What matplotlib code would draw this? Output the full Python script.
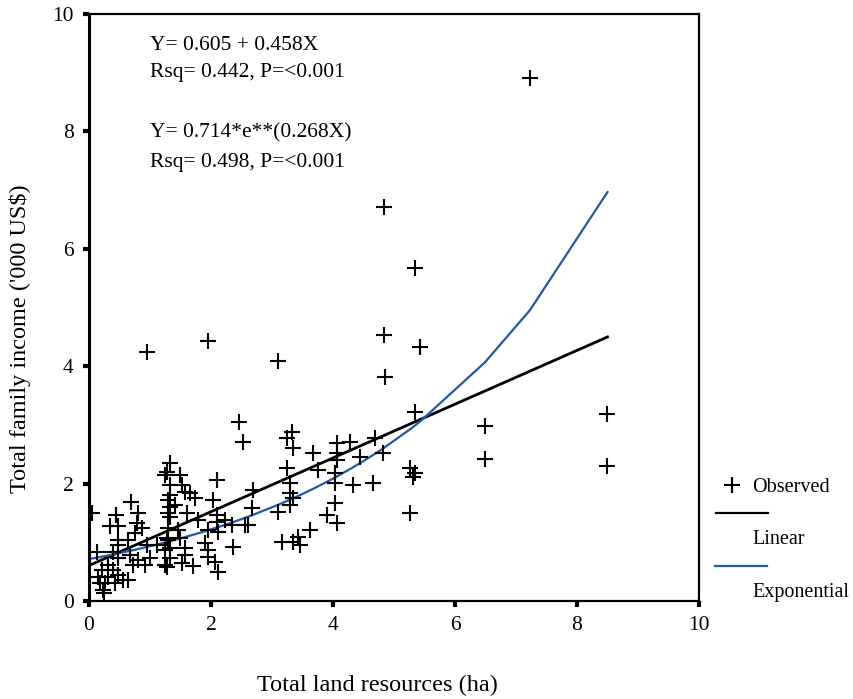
import numpy as np
import matplotlib
matplotlib.use("Agg")
import matplotlib.pyplot as plt
from matplotlib.lines import Line2D

plt.rcParams['font.family'] = ['Liberation Serif', 'DejaVu Serif']

# Household survey: land holding (ha) vs family income ('000 US$)
land_ha = [
    0.05, 0.69, 0.44, 0.80, 0.34, 0.48, 0.79, 0.87, 0.75, 0.48,
    0.64, 0.95, 0.48, 0.13, 0.39, 1.11, 1.30, 1.25, 0.67, 0.80,
    1.00, 0.92, 0.72, 1.25, 0.48, 0.21, 0.39, 0.31, 0.15, 0.31,
    0.48, 0.56, 0.26, 0.18, 0.23, 0.43, 0.64, 1.30, 1.33, 1.30,
    0.25,
    2.52, 1.33, 1.28, 1.49, 2.10, 1.33, 1.52, 1.57, 1.66, 1.74,
    2.03, 1.33, 1.41, 1.61, 1.33, 1.79, 2.10, 2.10, 2.23, 2.56,
    2.69, 2.67, 2.34, 1.95, 1.46, 1.30, 1.28, 1.49, 2.11, 1.90,
    2.36, 1.95, 1.57, 1.33, 1.57, 1.95, 1.33, 2.07, 1.52, 1.70,
    1.28, 2.11,
    2.46, 3.33, 3.25, 3.34, 3.67, 4.07, 4.28, 4.69, 4.07, 4.07,
    4.44, 3.75, 3.25, 3.30, 3.30, 3.30, 3.34, 4.03, 4.03, 4.33,
    4.66, 4.03, 3.90, 4.07, 3.62, 3.43, 3.46, 3.16, 3.34, 3.10,
    2.61, 1.25,
    5.43, 4.85, 5.34, 6.49, 6.49, 4.82, 5.26, 5.34, 5.31, 5.26,
    8.50, 8.50, 7.23, 4.84, 5.34, 4.84, 3.10, 0.95, 1.95,
]
income_k = [
    1.50, 1.69, 1.47, 1.50, 1.28, 1.28, 1.33, 1.24, 1.16, 1.04,
    1.04, 0.95, 0.95, 0.83, 0.83, 0.95, 1.04, 0.87, 0.78, 0.70,
    0.73, 0.61, 0.61, 0.61, 0.73, 0.53, 0.53, 0.61, 0.41, 0.41,
    0.44, 0.36, 0.31, 0.31, 0.19, 0.31, 0.36, 1.72, 1.60, 1.50,
    0.14,
    2.71, 2.35, 2.20, 2.15, 2.06, 1.98, 1.98, 1.86, 1.84, 1.75,
    1.72, 1.81, 1.64, 1.50, 1.43, 1.38, 1.47, 1.35, 1.38, 1.29,
    1.89, 1.58, 1.29, 1.21, 1.21, 1.24, 1.07, 1.07, 1.18, 0.99,
    0.92, 0.87, 0.90, 0.90, 0.78, 0.75, 0.73, 0.66, 0.65, 0.60,
    0.58, 0.49,
    3.05, 2.88, 2.78, 2.61, 2.52, 2.69, 2.71, 2.78, 2.52, 2.40,
    2.45, 2.23, 2.27, 2.01, 1.84, 1.64, 1.75, 2.18, 2.01, 1.98,
    2.01, 1.67, 1.47, 1.33, 1.21, 1.09, 0.95, 1.00, 1.00, 1.52,
    1.29, 2.15,
    4.33, 3.82, 3.22, 2.98, 2.42, 2.52, 2.27, 2.18, 2.11, 1.50,
    3.19, 2.30, 8.91, 6.71, 5.67, 4.53, 4.09, 4.24, 4.43,
]

# Fitted models
lin_a, lin_b = 0.605, 0.458
exp_a, exp_b = 0.714, 0.268

x = np.array(land_ha)
y = np.array(income_k)
xs = np.unique(x)

FS = 15.5
FS_TITLE = 17.5
FS_LEG = 14.5
BLUE = '#2457a8'

fig = plt.figure(figsize=(8.54, 6.99), dpi=100)
ax = fig.add_axes([89 / 854, 1 - 601 / 699, 610 / 854, 587 / 699])

ax.plot(x, y, linestyle='none', marker='+', markersize=11.5,
        markeredgewidth=1.5, color='black', zorder=3)
ax.plot(xs, lin_a + lin_b * xs, color='black', lw=2.0, zorder=2)
ax.plot(xs, exp_a * np.exp(exp_b * xs), color=BLUE, lw=1.6, zorder=2)

ax.set_xlim(0, 10)
ax.set_ylim(0, 10)
ax.set_xticks([0, 2, 4, 6, 8, 10])
ax.set_yticks([0, 2, 4, 6, 8, 10])
ax.tick_params(direction='out', length=4, width=3, labelsize=FS, pad=7,
               colors='black')
for side in ['top', 'right', 'bottom']:
    ax.spines[side].set_linewidth(1.6)
ax.spines['left'].set_linewidth(2.2)

# Axis titles
fig.text(377 / 854, 1 - 685 / 699, 'Total land resources (ha)',
         fontsize=FS_TITLE, ha='center', va='center')
fig.text(20 / 854, 1 - 339 / 699, "Total family income ('000 US$)",
         fontsize=FS_TITLE, ha='center', va='center', rotation=90)

eq_kw = dict(transform=fig.transFigure, fontsize=FS, ha='left', va='center')
fig.text(150 / 854, 1 - 45 / 699, 'Y= 0.605 + 0.458X', **eq_kw)
fig.text(150 / 854, 1 - 73 / 699, 'Rsq= 0.442, P=<0.001', **eq_kw)
fig.text(150 / 854, 1 - 133 / 699, 'Y= 0.714*e**(0.268X)', **eq_kw)
fig.text(150 / 854, 1 - 162 / 699, 'Rsq= 0.498, P=<0.001', **eq_kw)

# Legend drawn beside the plot area
leg_kw = {**eq_kw, 'fontsize': FS_LEG}
fig.add_artist(Line2D([732 / 854], [1 - 485 / 699], marker='+', markersize=11.5,
                      markeredgewidth=1.5, color='black', linestyle='none',
                      transform=fig.transFigure))
fig.text(752 / 854, 1 - 488 / 699, 'Observed', **leg_kw)
fig.add_artist(Line2D([716 / 854, 768 / 854], [1 - 513 / 699, 1 - 513 / 699],
                      color='black', lw=1.6, transform=fig.transFigure))
fig.text(752 / 854, 1 - 540 / 699, 'Linear', **leg_kw)
fig.add_artist(Line2D([715 / 854, 767 / 854], [1 - 566 / 699, 1 - 566 / 699],
                      color=BLUE, lw=1.6, transform=fig.transFigure))
fig.text(752 / 854, 1 - 593 / 699, 'Exponential', **leg_kw)

fig.savefig('out.png', dpi=100)
